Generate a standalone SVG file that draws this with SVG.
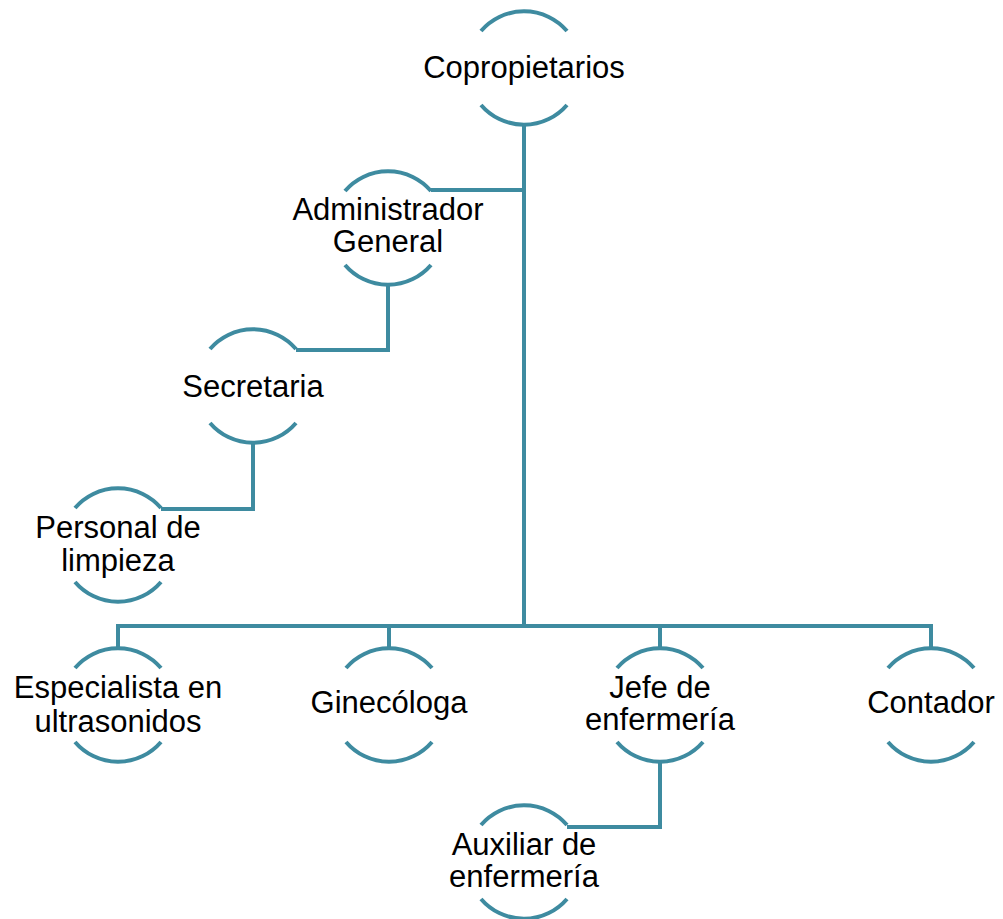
<svg xmlns="http://www.w3.org/2000/svg" xmlns:xlink="http://www.w3.org/1999/xlink" width="1003" height="919" viewBox="0 0 1003 919">
  <style>
    .ring { fill: none; stroke: #3e8ba0; stroke-width: 4; }
    .link { fill: none; stroke: #3e8ba0; stroke-width: 4; stroke-linejoin: miter; }
    .label { font-family: "Liberation Sans", Arial, sans-serif; font-size: 31px; fill: #000; text-anchor: middle; }
  </style>
  <defs>
    <!-- open circle: only the top and bottom arcs are stroked -->
    <path id="ring" d="M-43,-37 A56.7,56.7 0 0 1 43,-37 M-43,37 A56.7,56.7 0 0 0 43,37"/>
  </defs>
  <rect width="1003" height="919" fill="#ffffff"/>

  <g id="connectors" class="link">
    <path d="M524,125 V626"/>
    <path d="M118,647 V626 H931 V647"/>
    <path d="M389,626 V647"/>
    <path d="M660,626 V647"/>
    <path d="M524,190 H431"/>
    <path d="M388,285 V350 H296"/>
    <path d="M253,443 V509 H161"/>
    <path d="M660,762 V827 H567"/>
  </g>

  <g id="copropietarios" transform="translate(524,68)">
    <use xlink:href="#ring" class="ring"/>
    <text class="label" x="0" y="10">Copropietarios</text>
  </g>
  <g id="administrador" transform="translate(388,228)">
    <use xlink:href="#ring" class="ring"/>
    <text class="label" x="0" y="-8">Administrador</text>
    <text class="label" x="0" y="24">General</text>
  </g>
  <g id="secretaria" transform="translate(253,386)">
    <use xlink:href="#ring" class="ring"/>
    <text class="label" x="0" y="11">Secretaria</text>
  </g>
  <g id="limpieza" transform="translate(118,545)">
    <use xlink:href="#ring" class="ring"/>
    <text class="label" x="0" y="-7">Personal de</text>
    <text class="label" x="0" y="26">limpieza</text>
  </g>
  <g id="ultrasonidos" transform="translate(118,705)">
    <use xlink:href="#ring" class="ring"/>
    <text class="label" x="0" y="-7">Especialista en</text>
    <text class="label" x="0" y="27">ultrasonidos</text>
  </g>
  <g id="ginecologa" transform="translate(389,705)">
    <use xlink:href="#ring" class="ring"/>
    <text class="label" x="0" y="8">Ginecóloga</text>
  </g>
  <g id="jefe-enfermeria" transform="translate(660,705)">
    <use xlink:href="#ring" class="ring"/>
    <text class="label" x="0" y="-7">Jefe de</text>
    <text class="label" x="0" y="25">enfermería</text>
  </g>
  <g id="contador" transform="translate(931,705)">
    <use xlink:href="#ring" class="ring"/>
    <text class="label" x="0" y="8">Contador</text>
  </g>
  <g id="auxiliar-enfermeria" transform="translate(524,862)">
    <use xlink:href="#ring" class="ring"/>
    <text class="label" x="0" y="-7">Auxiliar de</text>
    <text class="label" x="0" y="25">enfermería</text>
  </g>
</svg>
